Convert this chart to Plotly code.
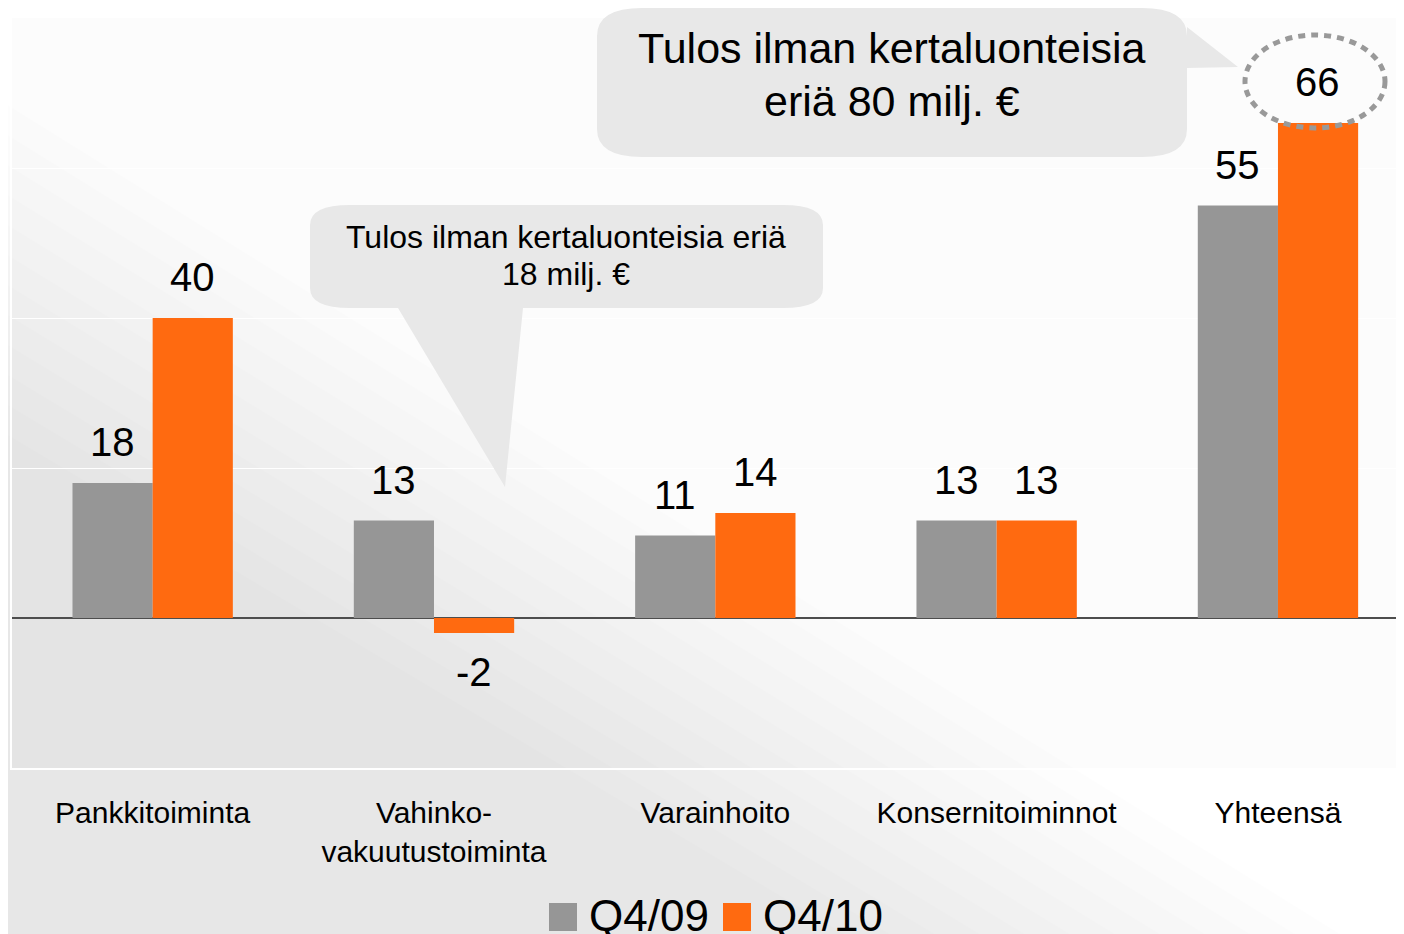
import plotly.graph_objects as go

categories = ["Pankkitoiminta", "Vahinko-<br>vakuutustoiminta", "Varainhoito", "Konsernitoiminnot", "Yhteensä"]
series_names = ["Q4/09", "Q4/10"]
q4_09 = [18, 13, 11, 13, 55]
q4_10 = [40, -2, 14, 13, 66]
bubble_big_lines = ["Tulos ilman kertaluonteisia", "eriä 80 milj. €"]
bubble_small_lines = ["Tulos ilman kertaluonteisia eriä", "18 milj. €"]

GRAY = "#969696"
ORANGE = "#FF6A10"
FONT = "Liberation Sans, Arial, sans-serif"

OFF = 8  # page body margin
W, H = 1404 - OFF, 934 - OFF
L, T = 12 - OFF, 18 - OFF
PB = 768 - OFF          # plot bottom in figure px
B = H - PB
PW = W - L
PH = PB - T


def X(px):
    return (px - OFF - L) / PW


def Y(py):
    return (PB - (py - OFF)) / PH


def rrect_path(x0, y0, x1, y1, rx, ry, tail=None, tail_side=None):
    s = f"M{X(x0+rx)},{Y(y0)} L{X(x1-rx)},{Y(y0)} Q{X(x1)},{Y(y0)} {X(x1)},{Y(y0+ry)} "
    if tail_side == "right":
        (ax, ay), (tx, ty), (bx, by) = tail
        s += f"L{X(ax)},{Y(ay)} L{X(tx)},{Y(ty)} L{X(bx)},{Y(by)} "
    s += f"L{X(x1)},{Y(y1-ry)} Q{X(x1)},{Y(y1)} {X(x1-rx)},{Y(y1)} "
    if tail_side == "bottom":
        (ax, ay), (tx, ty), (bx, by) = tail
        s += f"L{X(ax)},{Y(ay)} L{X(tx)},{Y(ty)} L{X(bx)},{Y(by)} "
    s += f"L{X(x0+rx)},{Y(y1)} Q{X(x0)},{Y(y1)} {X(x0)},{Y(y1-ry)} "
    s += f"L{X(x0)},{Y(y0+ry)} Q{X(x0)},{Y(y0)} {X(x0+rx)},{Y(y0)} Z"
    return s


fig = go.Figure()
fig.add_trace(go.Bar(x=categories, y=q4_09, name=series_names[0], marker_color=GRAY,
                     marker_line_width=0, showlegend=False))
fig.add_trace(go.Bar(x=categories, y=q4_10, name=series_names[1], marker_color=ORANGE,
                     marker_line_width=0, showlegend=False))

annotations = []
for vals, xs in ((q4_09, -40), (q4_10, 40)):
    for c, v in zip(categories, vals):
        annotations.append(dict(x=c, y=v, xref="x", yref="y", text=str(v), showarrow=False,
                                xshift=xs, yshift=41 if v >= 0 else -39, yanchor="middle",
                                font=dict(family=FONT, size=40, color="black")))

shapes = []
# subtle background shading (diagonal gradient imitation, many faint layers)
for i in range(12):
    ya = 100 + i * 30
    xb = 1350 - i * 45
    shapes.append(dict(type="path", xref="paper", yref="paper", layer="below",
                       path=f"M{X(0)},{Y(940)} L{X(0)},{Y(ya)} L{X(xb)},{Y(940)} Z",
                       fillcolor="rgba(0,0,0,0.0065)", line_width=0))

# big bubble
shapes.append(dict(type="path", xref="paper", yref="paper", layer="above",
                   path=rrect_path(597, 8, 1187, 157, 45, 28,
                                   tail=((1187, 27), (1238, 67), (1187, 68)), tail_side="right"),
                   fillcolor="#e8e8e8", line_width=0))
# small bubble
shapes.append(dict(type="path", xref="paper", yref="paper", layer="above",
                   path=rrect_path(310, 205, 823, 308, 40, 20,
                                   tail=((523, 308), (505, 487), (398, 308)), tail_side="bottom"),
                   fillcolor="#e8e8e8", line_width=0))
# dashed ellipse around total
shapes.append(dict(type="circle", xref="paper", yref="paper", layer="above",
                   x0=X(1245), x1=X(1385), y0=Y(35), y1=Y(128),
                   line=dict(color="#999999", width=5, dash="7px,6px"), fillcolor="rgba(0,0,0,0)"))

for txt, yy in zip(bubble_big_lines, (48, 101)):
    annotations.append(dict(x=X(892), y=Y(yy), xref="paper", yref="paper", text=txt,
                            showarrow=False, xanchor="center", yanchor="middle",
                            font=dict(family=FONT, size=43, color="black")))
for txt, yy in zip(bubble_small_lines, (237, 274)):
    annotations.append(dict(x=X(566), y=Y(yy), xref="paper", yref="paper", text=txt,
                            showarrow=False, xanchor="center", yanchor="middle",
                            font=dict(family=FONT, size=32, color="black")))

# manual legend
leg = [(549, GRAY, series_names[0]), (723, ORANGE, series_names[1])]
for x0, col, name in leg:
    shapes.append(dict(type="rect", xref="paper", yref="paper", x0=X(x0), x1=X(x0 + 28),
                       y0=Y(931), y1=Y(903), fillcolor=col, line_width=0))
    annotations.append(dict(x=X(x0 + 38), y=Y(915), xref="paper", yref="paper", text=name,
                            showarrow=False, xanchor="left", yanchor="middle",
                            font=dict(family=FONT, size=44, color="black")))

fig.update_layout(
    width=W, height=H,
    margin=dict(l=L, r=0, t=T, b=B, pad=0),
    paper_bgcolor="#ffffff",
    plot_bgcolor="rgba(0,0,0,0.012)",
    barmode="group", bargap=0.43, bargroupgap=0,
    shapes=shapes, annotations=annotations,
    font=dict(family=FONT, color="black"),
    xaxis=dict(type="category", range=[-0.5, 4.448], showgrid=False, zeroline=False,
               showline=True, linecolor="#ffffff", linewidth=2, mirror=False, ticks="",
               tickfont=dict(family=FONT, size=30, color="black"), ticklabelstandoff=17),
    yaxis=dict(range=[-20, 80], dtick=20, showgrid=True, gridcolor="#ffffff", gridwidth=1,
               showticklabels=False, zeroline=True, zerolinecolor="#4d4d4d", zerolinewidth=1.5,
               showline=True, linecolor="#ffffff", linewidth=2),
)

fig.write_html("out.html")
